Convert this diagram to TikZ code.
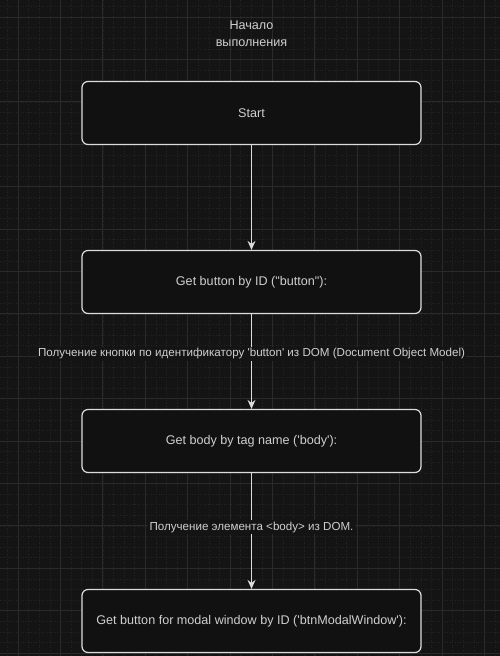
\documentclass[tikz,border=0pt]{standalone}
\usepackage{fontspec}
\setmainfont{Liberation Sans}[Ligatures=TeXOff]
\usetikzlibrary{arrows.meta}
\definecolor{bgcol}{HTML}{141414}
\definecolor{boxfill}{HTML}{111111}
\definecolor{gridmaj}{HTML}{2A2A2A}
\definecolor{gridmin}{HTML}{232323}
\definecolor{linecol}{HTML}{DCDCDC}
\definecolor{txtcol}{HTML}{CFCFCF}

\begin{document}
\begin{tikzpicture}[x=1pt,y=-1pt,
  every node/.style={text=txtcol,font=\fontsize{12.6}{17}\selectfont},
  stepbox/.style={draw=linecol,line width=1.2pt,fill=boxfill,rounded corners=6pt,
    minimum width=339pt,minimum height=63pt,inner sep=0pt},
  flow/.style={draw=linecol,line width=1.1pt,-{Stealth[length=9pt,width=8pt]}},
  edgetext/.style={fill=bgcol,inner sep=1.5pt,font=\fontsize{11.6}{16}\selectfont}]
\fill[bgcol] (0,0) rectangle (500,656);
\useasboundingbox (0,0) rectangle (500,656);
\foreach \i in {-1,...,47} {
  \draw[gridmin,line width=0.6pt,dotted] ({18+10.6*\i},0) -- ({18+10.6*\i},656);
}
\foreach \i in {-1,...,62} {
  \draw[gridmin,line width=0.6pt,dotted] (0,{17+10.6*\i}) -- (500,{17+10.6*\i});
}
\foreach \i in {0,...,11} {
  \draw[gridmaj,line width=0.8pt] ({18+42.4*\i},0) -- ({18+42.4*\i},656);
}
\foreach \i in {0,...,15} {
  \draw[gridmaj,line width=0.8pt] (0,{17+42.4*\i}) -- (500,{17+42.4*\i});
}
\node[align=center] (title) at (251.5,33.5) {Начало\\выполнения};
\node[stepbox] (start) at (251.5,113) {Start};
\node[stepbox] (getbtn) at (251.5,282) {Get button by ID ("button"):};
\node[stepbox] (getbody) at (251.5,441) {Get body by tag name ('body'):};
\node[stepbox] (getmodal) at (251.5,621) {Get button for modal window by ID ('btnModalWindow'):};
\draw[flow] (start) -- (getbtn);
\draw[flow] (getbtn) -- node[edgetext,pos=0.42] (lbl_dom) {Получение кнопки по идентификатору 'button' из DOM (Document Object Model)} (getbody);
\draw[flow] (getbody) -- node[edgetext,pos=0.466] (lbl_body) {Получение элемента <body> из DOM.} (getmodal);
\end{tikzpicture}
\end{document}
